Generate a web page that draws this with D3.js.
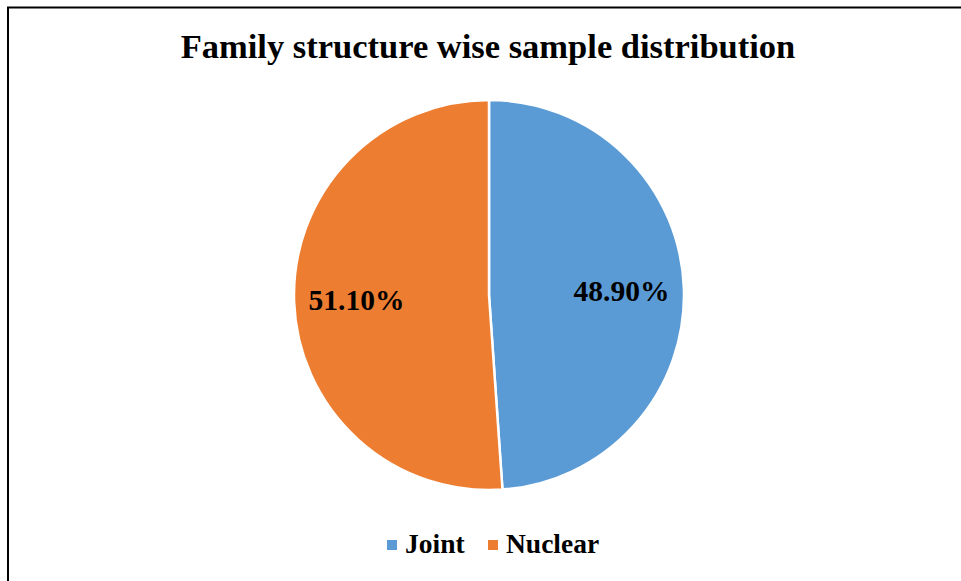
<!DOCTYPE html>
<html>
<head>
<meta charset="utf-8">
<script src="https://cdn.jsdelivr.net/npm/d3@7/dist/d3.min.js"></script>
<style>
  html, body { margin: 0; padding: 0; background: #fff; }
  svg { display: block; }
  text { font-family: "Liberation Serif", "DejaVu Serif", serif; font-weight: bold; fill: #000; }
</style>
</head>
<body>
<svg id="chart" width="961" height="581"></svg>
<script>
// Family structure shares (%)
const categories = ["Joint", "Nuclear"];
const shares = [48.90, 51.10];
const colors = ["#5B9BD5", "#ED7D31"];
const titleText = "Family structure wise sample distribution";

const svg = d3.select("#chart");
const W = 961, H = 581;

// frame (top and left edges of the chart area)
svg.append("path")
  .attr("d", `M8,${H} L8,7.5 L${W},7.5`)
  .attr("fill", "none")
  .attr("stroke", "#000")
  .attr("stroke-width", 2);

svg.append("text")
  .attr("x", 488)
  .attr("y", 58)
  .attr("text-anchor", "middle")
  .style("font-size", "34.5px")
  .text(titleText);

const cx = 489, cy = 295, r = 195;
const data = categories.map((c, i) => ({ name: c, value: shares[i], color: colors[i] }));

const pie = d3.pie().value(d => d.value).sort(null);
const arc = d3.arc().innerRadius(0).outerRadius(r);
const labelArc = d3.arc().innerRadius(r * 0.68).outerRadius(r * 0.68);

const g = svg.append("g").attr("transform", `translate(${cx},${cy})`);
const arcs = pie(data);

g.selectAll("path.slice")
  .data(arcs)
  .join("path")
  .attr("class", "slice")
  .attr("d", arc)
  .attr("fill", d => d.data.color)
  .attr("stroke", "#fff")
  .attr("stroke-width", 2.5);

g.selectAll("text.lbl")
  .data(arcs)
  .join("text")
  .attr("class", "lbl")
  .attr("transform", d => `translate(${labelArc.centroid(d)})`)
  .attr("text-anchor", "middle")
  .attr("dy", "0.35em")
  .style("font-size", "29.5px")
  .text(d => d.data.value.toFixed(2) + "%");

// legend
const legend = svg.append("g").attr("transform", "translate(0,553)");
const legendX = [387, 488];
const items = legend.selectAll("g.item")
  .data(data)
  .join("g")
  .attr("class", "item")
  .attr("transform", (d, i) => `translate(${legendX[i]},0)`);
items.append("rect")
  .attr("x", 0).attr("y", -13)
  .attr("width", 10).attr("height", 10)
  .attr("fill", d => d.color);
items.append("text")
  .attr("x", 18).attr("y", 0)
  .style("font-size", "27.5px")
  .text(d => d.name);
</script>
</body>
</html>
